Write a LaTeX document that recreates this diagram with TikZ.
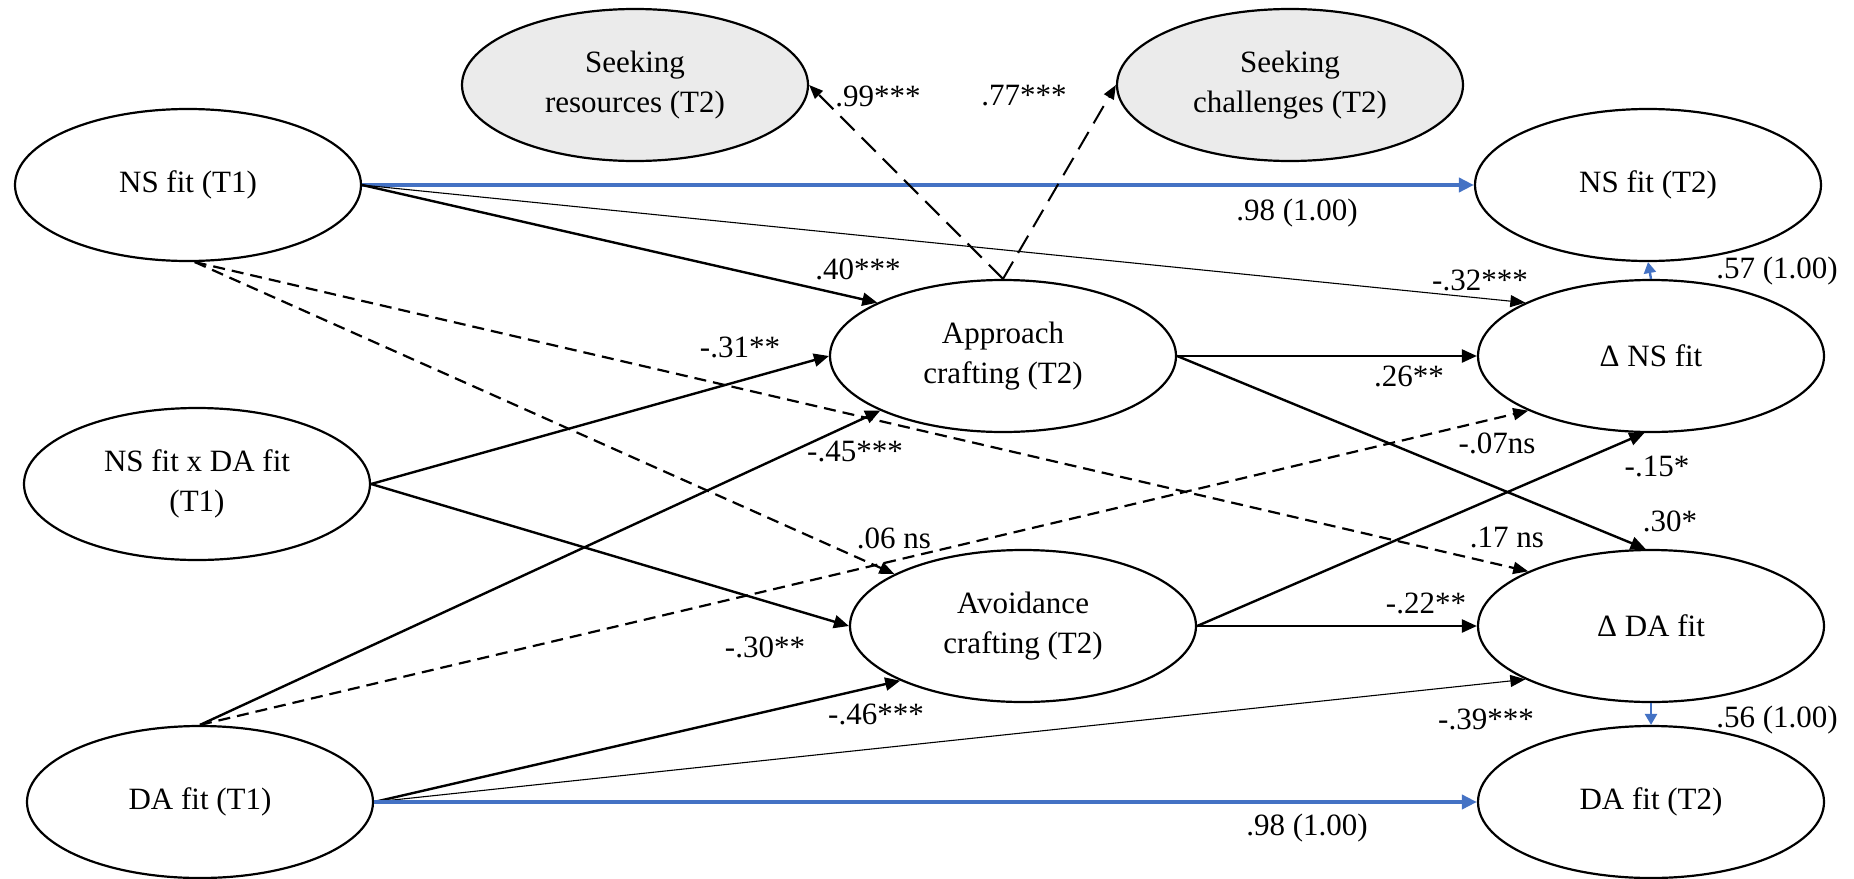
\documentclass[tikz,border=0pt]{standalone}
\usepackage{fontspec}
\setmainfont{Liberation Serif}
\usetikzlibrary{arrows.meta,shapes.geometric}
\definecolor{bl}{HTML}{4472C4}
\definecolor{gr}{HTML}{EBEBEB}
\newcommand{\figfs}{\fontsize{31}{40}\selectfont}
\tikzset{
 ell/.style={ellipse, draw=black, line width=2.2pt, minimum width=346pt, minimum height=152pt, inner sep=0pt, align=center, font=\figfs},
 gell/.style={ell, fill=gr},
 lab/.style={font=\figfs, inner sep=0pt},
 thk/.style={line width=2.4pt, -{Triangle[length=15pt,width=13pt]}},
 thn/.style={line width=1.1pt, -{Triangle[length=15pt,width=12pt]}},
 sdash/.style={line width=2.2pt, dash pattern=on 12pt off 7pt, -{Triangle[length=15pt,width=12pt]}},
 ldash/.style={line width=2pt, dash pattern=on 20pt off 10pt, -{Triangle[length=14pt,width=11pt]}},
 blu/.style={draw=bl, line width=4pt, -{Triangle[length=15pt,width=14pt]}},
 blus/.style={draw=bl, line width=2.4pt, -{Triangle[length=11pt,width=12pt]}},
}
\begin{document}
\begin{tikzpicture}[x=1pt,y=-1pt]
\useasboundingbox (0,0) rectangle (1854,878);
% nodes
\node[ell] (NS1) at (188,185) {NS fit (T1)};
\node[ell] (INT) at (197,484) {NS fit x DA fit\\(T1)};
\node[ell] (DA1) at (200,802) {DA fit (T1)};
\node[gell] (SR) at (635,85) {Seeking\\resources (T2)};
\node[gell] (SC) at (1290,85) {Seeking\\challenges (T2)};
\node[ell] (APP) at (1003,356) {Approach\\crafting (T2)};
\node[ell] (AVO) at (1023,626) {Avoidance\\crafting (T2)};
\node[ell] (NS2) at (1648,185) {NS fit (T2)};
\node[ell] (dNS) at (1651,356) {Δ NS fit};
\node[ell] (dDA) at (1651,626) {Δ DA fit};
\node[ell] (DA2) at (1651,802) {DA fit (T2)};
% edges
\draw[blu] (NS1.east) -- (NS2.west);
\draw[thk] (NS1.east) -- (APP.157);
\draw[thn] (NS1.east) -- (dNS.157);
\draw[sdash] (NS1.275) -- (AVO.158);
\draw[sdash] (NS1.275) -- (dDA.156);
\draw[thk] (INT.east) -- (APP.west);
\draw[thk] (INT.east) -- (AVO.west);
\draw[thk] (DA1.north) -- (APP.204);
\draw[sdash] (DA1.north) -- (dNS.204);
\draw[thk] (DA1.east) -- (AVO.204);
\draw[thn] (DA1.east) -- (dDA.203);
\draw[blu] (DA1.east) -- (DA2.west);
\draw[ldash] (APP.north) -- (SR.east);
\draw[ldash] (APP.north) -- (SC.west);
\draw[thk] (APP.east) -- (dNS.west);
\draw[thk] (APP.east) -- (dDA.94);
\draw[thk] (AVO.east) -- (dDA.west);
\draw[thk] (AVO.east) -- (dNS.265);
\draw[blus] (dNS.north) -- (NS2.south);
\draw[blus] (dDA.south) -- (DA2.north);
% labels
\node[lab] (l1) at (878,96) {.99***};
\node[lab] (l2) at (1024,96) {.77***};
\node[lab] (l3) at (1297,213) {.98 (1.00)};
\node[lab] (l4) at (858,269) {.40***};
\node[lab] (l5) at (1480,280) {-.32***};
\node[lab] (l6) at (1777,271) {.57 (1.00)};
\node[lab] (l7) at (740,347) {-.31**};
\node[lab] (l8) at (1409,376) {.26**};
\node[lab] (l9) at (855,452) {-.45***};
\node[lab] (l10) at (1497,443) {-.07ns};
\node[lab] (l11) at (1657,466) {-.15*};
\node[lab] (l12) at (894,538) {.06 ns};
\node[lab] (l13) at (1507,537) {.17 ns};
\node[lab] (l14) at (1670,521) {.30*};
\node[lab] (l15) at (765,647) {-.30**};
\node[lab] (l16) at (1426,603) {-.22**};
\node[lab] (l17) at (876,714) {-.46***};
\node[lab] (l18) at (1486,719) {-.39***};
\node[lab] (l19) at (1777,720) {.56 (1.00)};
\node[lab] (l20) at (1307,828) {.98 (1.00)};
\end{tikzpicture}
\end{document}
